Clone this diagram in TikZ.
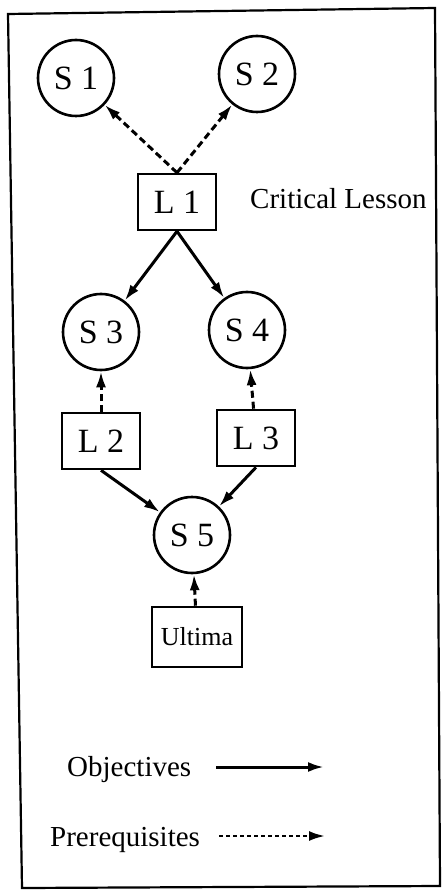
\documentclass[tikz,border=0pt]{standalone}
\usepackage{fontspec}
\setmainfont{Liberation Serif}
\usetikzlibrary{arrows.meta}
\begin{document}
\begin{tikzpicture}[x=1pt,y=-1pt,
  state/.style={draw,circle,line width=2.6pt,minimum size=76pt,inner sep=0pt,font=\fontsize{34}{34}\selectfont},
  lesson/.style={draw,rectangle,line width=2.6pt,minimum width=78pt,minimum height=56pt,inner sep=0pt,font=\fontsize{34}{34}\selectfont},
  objective/.style={line width=3pt,-{Latex[length=16pt,width=10pt]}},
  prereq/.style={line width=3pt,dash pattern=on 7pt off 4pt,-{Latex[length=16pt,width=10pt]}},
  label/.style={font=\fontsize{29}{29}\selectfont,inner sep=0pt}]
  \useasboundingbox (0,0) rectangle (445,890);
  % outer frame
  \draw[line width=2.2pt] (8,14) -- (435,8) -- (440,886) -- (22,888) -- cycle;

  % states
  \node[state] (S1) at (76,78) {S 1};
  \node[state] (S2) at (257,74) {S 2};
  \node[state] (S3) at (101,332) {S 3};
  \node[state] (S4) at (247,330) {S 4};
  \node[state] (S5) at (192,535) {S 5};

  % lessons
  \node[lesson] (L1) at (177,202) {L 1};
  \node[lesson] (L2) at (101,441) {L 2};
  \node[lesson] (L3) at (256,438) {L 3};
  \node[lesson,minimum width=90pt,minimum height=60pt,font=\fontsize{26}{26}\selectfont] (U) at (197,637) {Ultima};

  \node[label,anchor=west] (crit) at (250,199) {Critical Lesson};

  % prerequisites
  \draw[prereq] (L1.north) -- (S1);
  \draw[prereq] (L1.north) -- (S2);
  \draw[prereq] (L2) -- (S3);
  \draw[prereq] (L3) -- (S4);
  \draw[prereq] (U) -- (S5);

  % objectives
  \draw[objective] (L1.south) -- (S3);
  \draw[objective] (L1.south) -- (S4);
  \draw[objective] (L2.south) -- (S5);
  \draw[objective] (L3.south) -- (S5);

  % legend
  \node[label,anchor=west] (obj) at (67,770) {Objectives};
  \node[label,anchor=west] (pre) at (50,840) {Prerequisites};
  \coordinate (oa) at (216,767);
  \coordinate (ob) at (324,767);
  \coordinate (pa) at (219,836);
  \coordinate (pb) at (325,836);
  \draw[objective] (oa) -- (ob);
  \draw[prereq,line width=2.4pt,dash pattern=on 4pt off 3pt] (pa) -- (pb);
\end{tikzpicture}
\end{document}
